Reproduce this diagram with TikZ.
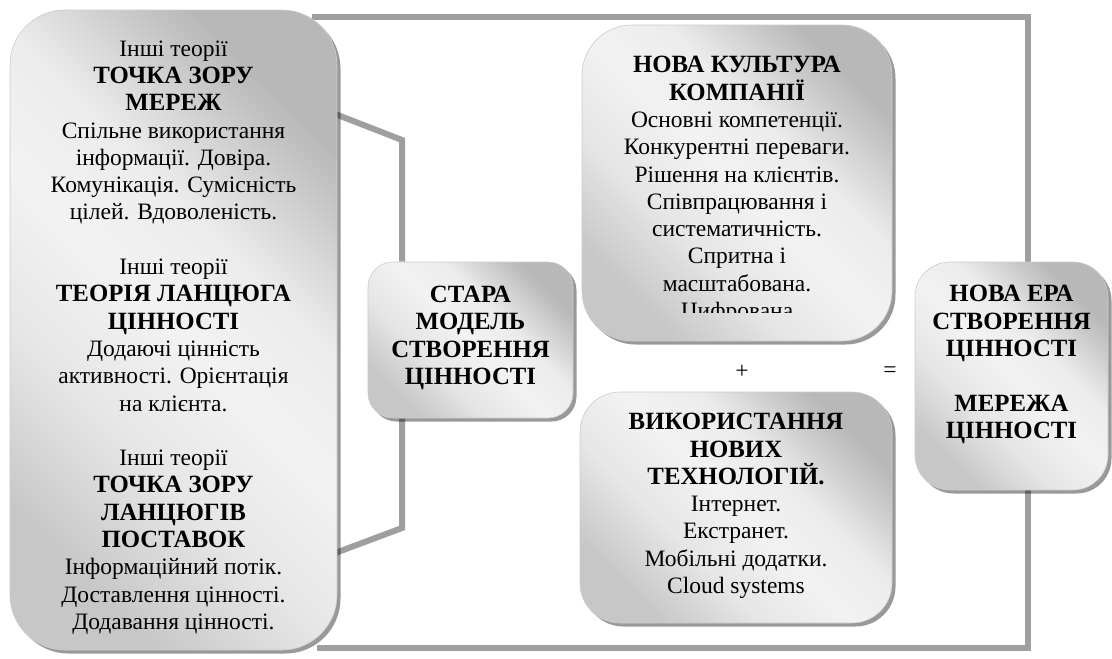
\documentclass[tikz,border=0pt]{standalone}
\usepackage{fontspec}
\setmainfont{Liberation Serif}
\usetikzlibrary{shadows,backgrounds,calc}
\pgfdeclareverticalshading{boxshade}{100bp}{color(0bp)=(gray!44); color(25bp)=(gray!44); color(38bp)=(gray!20); color(50bp)=(gray!10); color(60bp)=(gray!15); color(75bp)=(gray!56); color(100bp)=(gray!56)}
\newcommand\hd[1]{{\fontsize{24.8}{27.3}\selectfont\bfseries #1}}
\tikzset{
  box/.style={draw=gray!40, line width=0.6pt, rounded corners=#1,
    shading=boxshade, shading angle=-45,
    drop shadow={shadow xshift=3.5pt, shadow yshift=-3.5pt, fill=black, opacity=0.4},
    inner sep=0pt},
  box/.default=30pt,
  frameline/.style={draw=gray!75, line width=6pt},
  txt/.style={font=\fontsize{23.5}{27.3}\selectfont, align=center, inner sep=0pt, text=black},
}
\begin{document}
\begin{tikzpicture}[x=1pt,y=-1pt]
\useasboundingbox (0,0) rectangle (1112,659);
% boxes
\node[box=55pt, minimum width=327pt, minimum height=640pt] (others) at (173.5,330) {};
\node[box=50pt, minimum width=310pt, minimum height=316pt] (culture) at (737,183) {};
\node[box=25pt, minimum width=205pt, minimum height=156pt] (old) at (470.5,340) {};
\node[box=40pt, minimum width=312pt, minimum height=231pt] (tech) at (736,507.5) {};
\node[box=35pt, minimum width=193pt, minimum height=228pt] (newera) at (1011.5,376) {};
% texts
\node[txt] (otherstext) at (173.5,337.5) {Інші теорії\\ \hd{ТОЧКА ЗОРУ}\\ \hd{МЕРЕЖ}\\ Спільне використання\\ інформації. Довіра.\\ Комунікація. Сумісність\\ цілей. Вдоволеність.\\[27.3pt]
Інші теорії\\ \hd{ТЕОРІЯ ЛАНЦЮГА}\\ \hd{ЦІННОСТІ}\\ Додаючі цінність\\ активності. Орієнтація\\ на клієнта.\\[27.3pt]
Інші теорії\\ \hd{ТОЧКА ЗОРУ}\\ \hd{ЛАНЦЮГІВ}\\ \hd{ПОСТАВОК}\\ Інформаційний потік.\\ Доставлення цінності.\\ Додавання цінності.};
\begin{scope}
\clip (culture.north west) rectangle ($(culture.south east)+(0,-29)$);
\node[txt] (culturetext) at (737,190) {\hd{НОВА КУЛЬТУРА}\\ \hd{КОМПАНІЇ}\\ Основні компетенції.\\ Конкурентні переваги.\\ Рішення на клієнтів.\\ Співпрацювання і\\ систематичність.\\ Спритна і\\ масштабована.\\ Цифрована};
\end{scope}
\node[txt] (oldtext) at (470.5,338) {\hd{СТАРА}\\ \hd{МОДЕЛЬ}\\ \hd{СТВОРЕННЯ}\\ \hd{ЦІННОСТІ}};
\node[txt] (techtext) at (736,506) {\hd{ВИКОРИСТАННЯ}\\ \hd{НОВИХ}\\ \hd{ТЕХНОЛОГІЙ.}\\ Інтернет.\\ Екстранет.\\ Мобільні додатки.\\ Cloud systems};
\node[txt] (neweratext) at (1011.5,364.5) {\hd{НОВА ЕРА}\\ \hd{СТВОРЕННЯ}\\ \hd{ЦІННОСТІ}\\[27.3pt] \hd{МЕРЕЖА}\\ \hd{ЦІННОСТІ}};
\node[txt] (plus) at (742,372) {+};
\node[txt] (equals) at (890,372) {=};
% connectors
\coordinate (ftl) at (312,17);
\coordinate (ftr) at (1028,17);
\coordinate (fbr) at (1028,648);
\coordinate (fbl) at (317,648);
\coordinate (bt) at (330,112);
\coordinate (bk1) at (402,140);
\coordinate (bk2) at (402,528);
\coordinate (bb) at (330,555);
\begin{scope}[on background layer]
\fill[white] (0,0) rectangle (1112,659);
\draw[frameline] (ftl) -- (ftr) -- (ftr |- newera.north);
\draw[frameline] (fbr |- newera.south) -- (fbr) -- (fbl);
\draw[frameline] (bt) -- (bk1) -- (bk1 |- old.north);
\draw[frameline] (bk2 |- old.south) -- (bk2) -- (bb);
\end{scope}
\end{tikzpicture}
\end{document}
